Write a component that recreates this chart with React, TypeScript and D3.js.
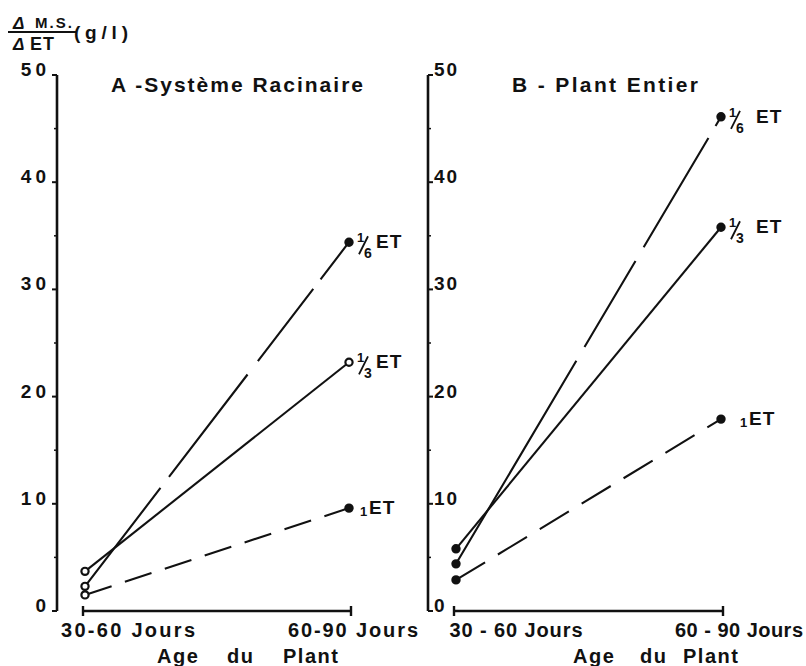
import React from 'react';
import * as d3 from 'd3';

// values (g/l)
const periods = ['30-60 Jours', '60-90 Jours'];
const yTicks = [0, 10, 20, 30, 40, 50];
const minorTicks = [5, 15, 25, 35, 45];
const ageWords = ['Age', 'du', 'Plant'];

const racinaireSixth = [2.3, 34.4];
const racinaireThird = [3.7, 23.2];
const racinaireOne = [1.5, 9.6];

const plantSixth = [4.4, 46.1];
const plantThird = [5.8, 35.8];
const plantOne = [2.9, 17.9];

const FONT = '"Liberation Sans", Arial, Helvetica, sans-serif';
const INK = '#111';

const y = d3.scaleLinear().domain([0, 50]).range([611, 75]);
const xA = d3.scalePoint<string>().domain(periods).range([85, 349]);
const xB = d3.scalePoint<string>().domain(periods).range([456, 721]);

type Series = { values: number[]; dash: string; den?: string; hollowEnd?: boolean };

const seriesA: Series[] = [
  { values: racinaireSixth, dash: '124,14,129,17,91,12,80', den: '6' },
  { values: racinaireThird, dash: '', den: '3', hollowEnd: true },
  { values: racinaireOne, dash: '28,14' },
];
const seriesB: Series[] = [
  { values: plantSixth, dash: '236,16,100,16,127,14,40', den: '6' },
  { values: plantThird, dash: '', den: '3' },
  { values: plantOne, dash: '34,15' },
];

function EtLabel({ x, yy, den, etDx, oneDx }: { x: number; yy: number; den?: string; etDx: number; oneDx: number }) {
  if (!den) {
    return (
      <g fontFamily={FONT} fontWeight="bold" fill={INK}>
        <text x={x + oneDx} y={yy + 8} fontSize={13}>1</text>
        <text x={x + oneDx + 9} y={yy + 6} fontSize={19} letterSpacing={1}>ET</text>
      </g>
    );
  }
  return (
    <g fontFamily={FONT} fontWeight="bold" fill={INK}>
      <text x={x + 8} y={yy} fontSize={13}>1</text>
      <line x1={x + 10} y1={yy + 12} x2={x + 19} y2={yy - 6} stroke={INK} strokeWidth={1.8} />
      <text x={x + 15} y={yy + 16} fontSize={14}>{den}</text>
      <text x={x + etDx} y={yy + 6} fontSize={19} letterSpacing={1}>ET</text>
    </g>
  );
}

type PanelOpts = {
  x: d3.ScalePoint<string>; series: Series[]; side: 'left' | 'right';
  title: string; titleX: number; titleLen: number;
  labelDx: number[]; labelLen: number[]; ageDx: number[]; etDx: number; oneDx: number;
};

function Panel({ x, series, side, title, titleX, titleLen, labelDx, labelLen, ageDx, etDx, oneDx }: PanelOpts) {
  const x0 = x(periods[0])!;
  const x1 = x(periods[1])!;
  const axisX = side === 'left' ? 57 : 428;
  const dir = side === 'left' ? -1 : 1;
  const line = d3.line<number>().x((_, i) => x(periods[i])!).y(d => y(d));
  return (
    <g>
      {/* y axis */}
      <line x1={axisX} x2={axisX} y1={y(50)} y2={y(0)} stroke={INK} strokeWidth={2.6} />
      {yTicks.map(t => (
        <g key={t}>
          <line x1={axisX} x2={axisX + dir * 5} y1={y(t)} y2={y(t)} stroke={INK} strokeWidth={2} />
          <text
            x={side === 'left' ? 50 : axisX + 6}
            y={y(t) + 1}
            textAnchor={side === 'left' ? 'end' : 'start'}
            fontFamily={FONT} fontWeight="bold" fontSize={19} letterSpacing={side === 'left' ? 4 : 2} fill={INK}
          >{t}</text>
        </g>
      ))}
      {minorTicks.map(t => (
        <line key={t} x1={axisX} x2={axisX + dir * 3} y1={y(t)} y2={y(t)} stroke={INK} strokeWidth={1.5} />
      ))}
      {/* x axis */}
      <line x1={x0 - 2} x2={x1 + 2} y1={y(0)} y2={y(0)} stroke={INK} strokeWidth={2.4} />
      <line x1={x0 - 2} x2={x0 - 2} y1={y(0) - 5} y2={y(0) + 5} stroke={INK} strokeWidth={2.4} />
      <line x1={x1 + 2} x2={x1 + 2} y1={y(0) - 5} y2={y(0) + 5} stroke={INK} strokeWidth={2.4} />
      {periods.map((p, i) => (
        <text key={p} x={x(p)! + labelDx[i]} y={637} textAnchor="middle"
          fontFamily={FONT} fontWeight="bold" fontSize={20} fill={INK}
          textLength={labelLen[i]} lengthAdjust="spacing">
          {side === 'right' ? p.replace('-', ' - ') : p}
        </text>
      ))}
      {ageWords.map((w, i) => (
        <text key={w} x={x0 + ageDx[i]} y={663} fontFamily={FONT} fontWeight="bold"
          fontSize={20} letterSpacing={1.5} fill={INK}>{w}</text>
      ))}
      {/* title */}
      <text x={titleX} y={92} fontFamily={FONT} fontWeight="bold" fontSize={21} fill={INK}
        textLength={titleLen} lengthAdjust="spacing">{title}</text>
      {/* series */}
      {series.map((s, k) => (
        <g key={k}>
          <path d={line(s.values)!} fill="none" stroke={INK} strokeWidth={2.1}
            strokeDasharray={s.dash || undefined} />
          {s.values.map((v, i) => {
            const hollow = side === 'left' && (i === 0 || (i === 1 && s.hollowEnd));
            return (
              <circle key={i} cx={x(periods[i])!} cy={y(v)} r={3.6}
                fill={hollow ? '#fff' : INK} stroke={INK} strokeWidth={2.2} />
            );
          })}
          <EtLabel x={x1} yy={y(s.values[1])} den={s.den} etDx={etDx} oneDx={oneDx} />
        </g>
      ))}
    </g>
  );
}

export default function App() {
  return (
    <svg width={806} height={666} style={{ position: 'absolute', left: 0, top: 0, background: '#fff' }}>
      <rect width={806} height={666} fill="#fff" />
      {/* y-axis label: ΔM.S. / ΔET (g/l) */}
      <g fontFamily={FONT} fontWeight="bold" fill={INK}>
        <text x={13} y={29} fontSize={17} fontStyle="italic">Δ</text>
        <text x={35} y={28} fontSize={15} textLength={37} lengthAdjust="spacing">M.S.</text>
        <line x1={8} x2={76} y1={32} y2={32} stroke={INK} strokeWidth={2} />
        <text x={13} y={50} fontSize={17} fontStyle="italic">Δ</text>
        <text x={30} y={50} fontSize={18} letterSpacing={1}>ET</text>
        <text x={74} y={39} fontSize={19} textLength={54} lengthAdjust="spacing">(g/l)</text>
      </g>
      <Panel x={xA} series={seriesA} side="left" title="A -Système   Racinaire" titleX={111} titleLen={252}
        labelDx={[43, 4]} labelLen={[134, 130]} ageDx={[72, 142, 198]} etDx={27} oneDx={11} />
      <Panel x={xB} series={seriesB} side="right" title="B - Plant  Entier" titleX={512} titleLen={186}
        labelDx={[60, 18]} labelLen={[133, 128]} ageDx={[117, 184, 227]} etDx={35} oneDx={19} />
    </svg>
  );
}
